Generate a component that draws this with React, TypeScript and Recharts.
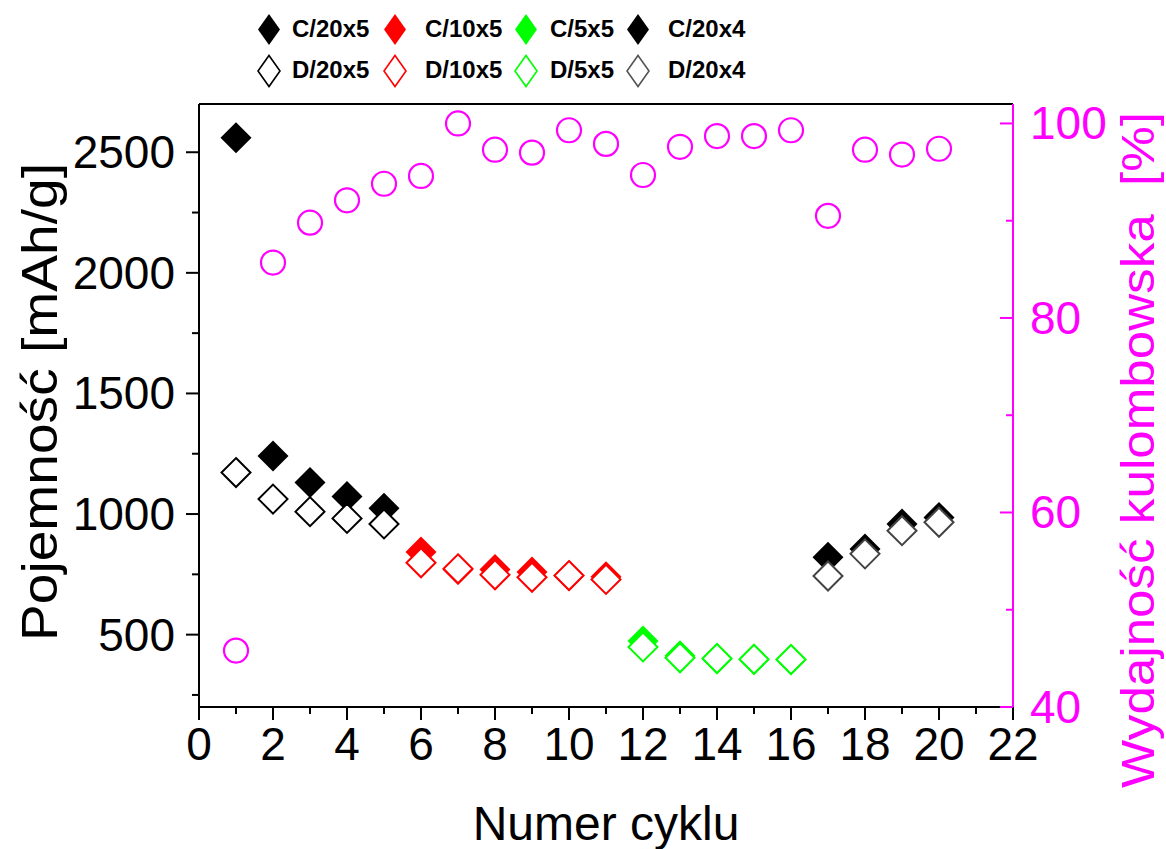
import React from 'react';
import { ScatterChart, Scatter, XAxis, YAxis, ReferenceLine } from 'recharts';

const FONT = '"Liberation Sans", Arial, Helvetica, sans-serif';
const MAGENTA = '#ff00ff';
const RED = '#ff0000';
const GREEN = '#00ff00';

// Capacity data [mAh/g]
const cyclesA = [1, 2, 3, 4, 5];
const chargeC20x5 = [2560, 1241, 1131, 1073, 1024];
const dischargeD20x5 = [1172, 1062, 1010, 982, 959];

const cyclesB = [6, 7, 8, 9, 10, 11];
const chargeC10x5 = [843, 770, 770, 760, 744, 740];
const dischargeD10x5 = [798, 773, 748, 738, 745, 729];

const cyclesC = [12, 13, 14, 15, 16];
const chargeC5x5 = [474, 412, 400, 397, 396];
const dischargeD5x5 = [449, 404, 401, 398, 397];

const cyclesD = [17, 18, 19, 20];
const chargeC20x4 = [821, 855, 959, 986];
const dischargeD20x4 = [743, 835, 931, 966];

// Coulombic efficiency [%]
const cyclesAll = [1, 2, 3, 4, 5, 6, 7, 8, 9, 10, 11, 12, 13, 14, 15, 16, 17, 18, 19, 20];
const efficiency = [45.8, 85.7, 89.8, 92.1, 93.8, 94.6, 100.0, 97.3, 97.0, 99.3, 97.9, 94.7, 97.6, 98.7, 98.7, 99.3, 90.5, 97.3, 96.8, 97.4];

// Ticks
const xTicks = [0, 1, 2, 3, 4, 5, 6, 7, 8, 9, 10, 11, 12, 13, 14, 15, 16, 17, 18, 19, 20, 21, 22];
const leftTicks = [250, 500, 750, 1000, 1250, 1500, 1750, 2000, 2250, 2500];
const rightTicks = [40, 50, 60, 70, 80, 90, 100];

const legendRow1 = ['C/20x5', 'C/10x5', 'C/5x5', 'C/20x4'];
const legendRow2 = ['D/20x5', 'D/10x5', 'D/5x5', 'D/20x4'];
const legendColors = ['#000000', RED, GREEN, '#000000'];
const legendOpenColors = ['#000000', RED, GREEN, '#555555'];

const zip = (xs: number[], ys: number[]) => xs.map((x, i) => ({ x, y: ys[i] }));

const HALF = 15.5;

const filledDiamond = (color: string) => (props: any) => {
  const { cx, cy } = props;
  if (cx == null || cy == null) return <g />;
  return (
    <polygon
      points={`${cx},${cy - HALF} ${cx + HALF},${cy} ${cx},${cy + HALF} ${cx - HALF},${cy}`}
      fill={color}
      stroke="none"
    />
  );
};

const openDiamond = (color: string) => (props: any) => {
  const { cx, cy } = props;
  if (cx == null || cy == null) return <g />;
  const h = HALF - 1;
  return (
    <polygon
      points={`${cx},${cy - h} ${cx + h},${cy} ${cx},${cy + h} ${cx - h},${cy}`}
      fill="#ffffff"
      stroke={color}
      strokeWidth={2}
    />
  );
};

const openCircle = (props: any) => {
  const { cx, cy } = props;
  if (cx == null || cy == null) return <g />;
  return <circle cx={cx} cy={cy} r={12} fill="none" stroke={MAGENTA} strokeWidth={2.2} />;
};

const XTick = (props: any) => {
  const { x, y, payload } = props;
  const major = payload.value % 2 === 0;
  return (
    <g>
      <line x1={x} x2={x} y1={y} y2={y + (major ? 13 : 7)} stroke="#000" strokeWidth={2} />
      {major && (
        <text x={x} y={y + 53} textAnchor="middle" fontSize={46} fontFamily={FONT} fill="#000">
          {payload.value}
        </text>
      )}
    </g>
  );
};

const LeftTick = (props: any) => {
  const { x, y, payload } = props;
  const major = payload.value % 500 === 0;
  return (
    <g>
      <line x1={x - (major ? 13 : 7)} x2={x} y1={y} y2={y} stroke="#000" strokeWidth={2} />
      {major && (
        <text x={x - 24} y={y + 16} textAnchor="end" fontSize={46} fontFamily={FONT} fill="#000">
          {payload.value}
        </text>
      )}
    </g>
  );
};

const RightTick = (props: any) => {
  const { x, y, payload } = props;
  const major = payload.value % 20 === 0;
  return (
    <g>
      <line x1={x - (major ? 13 : 7)} x2={x} y1={y} y2={y} stroke={MAGENTA} strokeWidth={2} />
      {major && (
        <text x={x + 17} y={y + 16} textAnchor="start" fontSize={46} fontFamily={FONT} fill={MAGENTA}>
          {payload.value}
        </text>
      )}
    </g>
  );
};

const legendMarkerX = [269, 395, 526, 638];
const legendTextX = [292, 425, 550, 668];

function LegendDiamond({ cx, cy, color, filled }: { cx: number; cy: number; color: string; filled: boolean }) {
  const w = 11;
  const h = 15.5;
  return (
    <polygon
      points={`${cx},${cy - h} ${cx + w},${cy} ${cx},${cy + h} ${cx - w},${cy}`}
      fill={filled ? color : '#ffffff'}
      stroke={filled ? 'none' : color}
      strokeWidth={1.6}
    />
  );
}

export default function App() {
  return (
    <div style={{ position: 'absolute', left: 0, top: 0, width: 1166, height: 849, background: '#fff' }}>
      <div style={{ position: 'absolute', left: 0, top: 0 }}>
        <ScatterChart width={1166} height={849} margin={{ top: 104, right: 0, bottom: 0, left: 0 }}>
          <XAxis
            type="number"
            dataKey="x"
            domain={[0, 22]}
            ticks={xTicks}
            interval={0}
            height={142}
            tickSize={0}
            tickMargin={0}
            tick={<XTick />}
            axisLine={{ stroke: '#000', strokeWidth: 2 }}
            tickLine={false}
            allowDataOverflow
          />
          <YAxis
            yAxisId="left"
            type="number"
            dataKey="y"
            domain={[200, 2700]}
            ticks={leftTicks}
            interval={0}
            width={199}
            tickSize={0}
            tickMargin={0}
            tick={<LeftTick />}
            axisLine={{ stroke: '#000', strokeWidth: 2 }}
            tickLine={false}
            allowDataOverflow
          />
          <YAxis
            yAxisId="right"
            orientation="right"
            type="number"
            dataKey="y"
            domain={[40, 102]}
            ticks={rightTicks}
            interval={0}
            width={153}
            tickSize={0}
            tickMargin={0}
            tick={<RightTick />}
            axisLine={{ stroke: MAGENTA, strokeWidth: 2 }}
            tickLine={false}
            allowDataOverflow
          />
          <ReferenceLine yAxisId="left" y={2700} stroke="#000" strokeWidth={2} />
          <Scatter yAxisId="left" data={zip(cyclesA, chargeC20x5)} shape={filledDiamond('#000000')} isAnimationActive={false} />
          <Scatter yAxisId="left" data={zip(cyclesB, chargeC10x5)} shape={filledDiamond(RED)} isAnimationActive={false} />
          <Scatter yAxisId="left" data={zip(cyclesC, chargeC5x5)} shape={filledDiamond(GREEN)} isAnimationActive={false} />
          <Scatter yAxisId="left" data={zip(cyclesD, chargeC20x4)} shape={filledDiamond('#000000')} isAnimationActive={false} />
          <Scatter yAxisId="left" data={zip(cyclesA, dischargeD20x5)} shape={openDiamond('#000000')} isAnimationActive={false} />
          <Scatter yAxisId="left" data={zip(cyclesB, dischargeD10x5)} shape={openDiamond(RED)} isAnimationActive={false} />
          <Scatter yAxisId="left" data={zip(cyclesC, dischargeD5x5)} shape={openDiamond(GREEN)} isAnimationActive={false} />
          <Scatter yAxisId="left" data={zip(cyclesD, dischargeD20x4)} shape={openDiamond('#444444')} isAnimationActive={false} />
          <Scatter yAxisId="right" data={zip(cyclesAll, efficiency)} shape={openCircle} isAnimationActive={false} />
        </ScatterChart>
      </div>
      <svg
        width={1166}
        height={849}
        style={{ position: 'absolute', left: 0, top: 0, pointerEvents: 'none' }}
      >
        {legendRow1.map((t, i) => (
          <g key={'r1' + t}>
            <LegendDiamond cx={legendMarkerX[i]} cy={29.5} color={legendColors[i]} filled />
            <text x={legendTextX[i]} y={37} fontSize={24} fontWeight="bold" fontFamily={FONT} fill="#000">
              {t}
            </text>
          </g>
        ))}
        {legendRow2.map((t, i) => (
          <g key={'r2' + t}>
            <LegendDiamond cx={legendMarkerX[i]} cy={71} color={legendOpenColors[i]} filled={false} />
            <text x={legendTextX[i]} y={78} fontSize={24} fontWeight="bold" fontFamily={FONT} fill="#000">
              {t}
            </text>
          </g>
        ))}
        <text x={606} y={840} textAnchor="middle" fontSize={48} fontFamily={FONT} fill="#000">
          Numer cyklu
        </text>
        <text
          transform="translate(57,402) rotate(-90)"
          textAnchor="middle"
          fontSize={50}
          textLength={478}
          lengthAdjust="spacingAndGlyphs"
          fontFamily={FONT}
          fill="#000"
        >
          Pojemność [mAh/g]
        </text>
        <text
          transform="translate(1154,450) rotate(-90)"
          textAnchor="middle"
          fontSize={46}
          textLength={676}
          lengthAdjust="spacingAndGlyphs"
          fontFamily={FONT}
          fill={MAGENTA}
          style={{ whiteSpace: 'pre' }}
        >
          {'Wydajność kulombowska  [%]'}
        </text>
      </svg>
    </div>
  );
}
